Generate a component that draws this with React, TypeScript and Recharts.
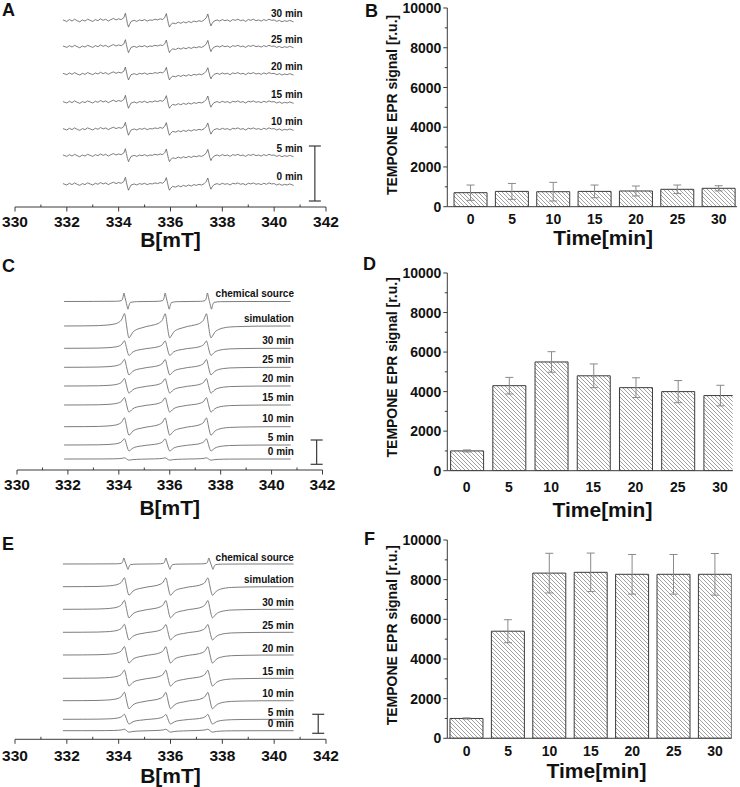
import { Bar, BarChart, ComposedChart, ErrorBar, Line, Scatter, XAxis, YAxis } from 'recharts'

const FONT = '"Liberation Sans", Arial, Helvetica, sans-serif'
const INK = '#111'
const AXIS = '#3a3a3a'
const TRACE = '#666'

type Pt = [number, number]

// ---- bar panels (B, D, F) ----
const times = [0, 5, 10, 15, 20, 25, 30]
const signalTicks = [0, 1000, 2000, 3000, 4000, 5000, 6000, 7000, 8000, 9000, 10000]

const signalB = [705, 770, 755, 770, 790, 875, 925]
const errorB = [385, 400, 470, 320, 250, 215, 130]
const signalD = [1000, 4300, 5500, 4800, 4200, 4000, 3800]
const errorD = [50, 420, 520, 600, 500, 560, 520]
const signalF = [1000, 5400, 8330, 8370, 8270, 8270, 8270]
const errorF = [30, 580, 1000, 970, 1000, 1000, 1050]

// ---- spectra panels (A, C, E) ----
const fieldTicks = [330, 331, 332, 333, 334, 335, 336, 337, 338, 339, 340, 341, 342]

// weak TEMPONE triplet on a noisy baseline (panel A), relative amplitude
const noisySpectrum: Pt[] = [
  [331.85, 0.1], [332.0, -0.1], [332.1, 0.15], [332.2, -0.05], [332.3, 0.2], [332.4, 0], [332.5, -0.15],
  [332.6, 0.1], [332.7, -0.05], [332.8, 0.2], [332.9, 0.05], [333.0, -0.1], [333.1, 0.15], [333.2, 0],
  [333.3, 0.25], [333.4, 0.05], [333.5, 0.2], [333.6, -0.05], [333.7, 0.15], [333.8, 0.3], [333.9, 0.1],
  [334.0, 0.25], [334.1, 0.15], [334.2, 0.4], [334.26, 1.0], [334.3, 0.3], [334.34, -0.4], [334.38, -0.85],
  [334.42, -0.5], [334.48, -0.1], [334.6, 0.05], [334.7, -0.1], [334.8, 0.1], [334.9, 0], [335.0, 0.15],
  [335.1, -0.05], [335.2, 0.1], [335.3, 0.05], [335.4, 0.2], [335.5, 0.1], [335.6, 0.25], [335.7, 0.15],
  [335.78, 0.45], [335.84, 0.95], [335.88, 0.3], [335.92, -0.4], [335.96, -0.85], [336.0, -0.6],
  [336.08, -0.3], [336.2, -0.4], [336.3, -0.2], [336.4, -0.35], [336.5, -0.15], [336.6, -0.3],
  [336.7, -0.1], [336.8, -0.25], [336.9, -0.05], [337.0, -0.15], [337.1, 0], [337.2, -0.1], [337.3, 0.1],
  [337.38, 0.4], [337.44, 0.9], [337.48, 0.3], [337.52, -0.3], [337.56, -0.7], [337.6, -0.4],
  [337.68, -0.05], [337.8, 0.1], [337.9, -0.05], [338.0, 0.15], [338.1, 0], [338.2, 0.1], [338.3, -0.1],
  [338.4, 0.15], [338.5, 0.05], [338.6, 0.2], [338.7, 0], [338.8, 0.1], [338.9, -0.1], [339.0, 0.15],
  [339.1, 0.05], [339.2, 0.2], [339.3, 0], [339.4, 0.1], [339.5, -0.05], [339.6, 0.15], [339.7, 0],
  [339.8, 0.2], [339.9, 0.05], [340.0, 0.1], [340.1, -0.1], [340.2, 0.05], [340.3, -0.15], [340.4, 0],
  [340.5, -0.1], [340.6, 0.05], [340.75, -0.15],
]

// broad triplet (simulation and time traces)
const broadSpectrum: Pt[] = [
  [331.85, 0], [332.6, 0.01], [333.2, 0.03], [333.5, 0.07], [333.8, 0.15], [334.0, 0.3], [334.12, 0.55],
  [334.18, 0.85], [334.22, 1.0], [334.3, 0.1], [334.35, -0.6], [334.4, -0.95], [334.46, -0.8],
  [334.55, -0.5], [334.7, -0.28], [334.9, -0.15], [335.1, -0.03], [335.4, 0.1], [335.6, 0.27],
  [335.72, 0.52], [335.78, 0.83], [335.82, 0.98], [335.9, 0.08], [335.95, -0.6], [336.0, -0.95],
  [336.06, -0.8], [336.15, -0.5], [336.3, -0.28], [336.5, -0.15], [336.7, -0.03], [337.02, 0.1],
  [337.22, 0.27], [337.34, 0.52], [337.4, 0.83], [337.44, 0.98], [337.52, 0.08], [337.57, -0.6],
  [337.62, -0.95], [337.68, -0.8], [337.77, -0.5], [337.92, -0.28], [338.12, -0.15], [338.35, -0.08],
  [338.8, -0.04], [339.5, -0.01], [340.75, 0],
]

// narrow triplet (chemical source)
const sharpSpectrum: Pt[] = [
  [331.85, 0], [333.0, 0.01], [333.9, 0.03], [334.1, 0.1], [334.16, 0.45], [334.2, 1.0], [334.24, 0.5],
  [334.28, 0], [334.32, -0.5], [334.36, -0.9], [334.4, -0.45], [334.46, -0.1], [334.7, -0.02],
  [335.5, 0.02], [335.72, 0.1], [335.78, 0.45], [335.82, 1.0], [335.86, 0.5], [335.9, 0], [335.94, -0.5],
  [335.98, -0.9], [336.02, -0.45], [336.08, -0.1], [336.3, -0.02], [337.2, 0.02], [337.38, 0.1],
  [337.44, 0.45], [337.48, 1.0], [337.52, 0.5], [337.56, 0], [337.6, -0.5], [337.64, -0.9],
  [337.68, -0.45], [337.74, -0.1], [338.0, -0.02], [339.0, 0], [340.75, 0],
]

const namesA = ['30 min', '25 min', '20 min', '15 min', '10 min', '5 min', '0 min']
const offsetsA = [186.3, 160.3, 133, 104.7, 77.7, 51.3, 22.7]
const ampsA = [7.5, 7, 7, 7, 7, 7, 7]

const namesCE = ['chemical source', 'simulation', '30 min', '25 min', '20 min', '15 min', '10 min', '5 min', '0 min']
const offsetsC = [168.5, 144, 121.7, 102.7, 84, 65, 43.3, 25, 11]
const ampsC = [8.5, 12.5, 7.5, 8, 7.5, 7.5, 9, 6.3, 1.2]
const offsetsE = [175.3, 152.6, 130, 107, 84.3, 61, 38.6, 20, 8.6]
const ampsE = [6, 9, 9, 8, 8.5, 8.2, 8.5, 5, 1.5]

const shapesA = namesA.map(() => noisySpectrum)
const shapesCE = namesCE.map((n) => (n === 'chemical source' ? sharpSpectrum : broadSpectrum))

function fieldTick(baseline: number) {
  return (props: any) => {
    const { x, y, payload } = props
    const major = payload.value % 2 === 0
    return (
      <g>
        <line x1={x} x2={x} y1={y} y2={major ? y + 4.5 : y - 2.5} stroke={AXIS} strokeWidth={1} />
        {major && (
          <text x={x} y={y + baseline} textAnchor="middle" fontSize={15.5} fontWeight={700} fontFamily={FONT} fill={INK}>
            {payload.value}
          </text>
        )}
      </g>
    )
  }
}

function timeTick(baseline: number) {
  return (props: any) => (
    <text x={props.x} y={props.y + baseline} textAnchor="middle" fontSize={14} fontWeight={700} fontFamily={FONT} fill={INK}>
      {props.payload.value}
    </text>
  )
}

function signalTick(props: any) {
  const { x, y, payload } = props
  const major = payload.value % 2000 === 0
  return (
    <g>
      <line x1={x - (major ? 4 : 2.5)} x2={x} y1={y} y2={y} stroke={AXIS} strokeWidth={1} />
      {major && (
        <text x={x - 6} y={y} dy="0.36em" textAnchor="end" fontSize={14} fontWeight={700} fontFamily={FONT} fill={INK}>
          {payload.value}
        </text>
      )}
    </g>
  )
}

function bottomTitle(text: string, baseline: number, dx: number) {
  return (props: any) => {
    const vb = props.viewBox
    return (
      <text x={vb.x + vb.width / 2 + dx} y={vb.y + baseline} textAnchor="middle" fontSize={21} fontWeight={700} fontFamily={FONT} fill={INK}>
        {text}
      </text>
    )
  }
}

function sideTitle(text: string, cx: number, dy: number) {
  return (props: any) => {
    const vb = props.viewBox
    const x = vb.x + cx
    const y = vb.y + vb.height / 2 + dy
    return (
      <text x={x} y={y} transform={`rotate(-90 ${x} ${y})`} textAnchor="middle" dominantBaseline="central" fontSize={14} fontWeight={700} fontFamily={FONT} fill={INK}>
        {text}
      </text>
    )
  }
}

function TraceName(props: any) {
  return (
    <text x={props.cx} y={props.cy} dy="0.36em" textAnchor="end" fontSize={10} fontWeight={700} fontFamily={FONT} fill={INK}>
      {props.payload.name}
    </text>
  )
}

type SpectrumProps = {
  top: number
  plotH: number
  axisH: number
  x330: number
  x342: number
  names: string[]
  offsets: number[]
  amps: number[]
  shapes: Pt[][]
  labelB: number
  labelGap: number
  scaleBar: { b: number; lo: number; hi: number }
  tickBase: number
  titleBase: number
  curve: 'linear' | 'monotone'
}

function SpectrumPanel(p: SpectrumProps) {
  const width = 340
  const nameRows = p.names.map((name, i) => ({ b: p.labelB, v: p.offsets[i] + p.labelGap, name }))
  const barRow = [{ b: p.scaleBar.b, v: (p.scaleBar.lo + p.scaleBar.hi) / 2, e: (p.scaleBar.hi - p.scaleBar.lo) / 2 }]
  return (
    <div style={{ position: 'absolute', left: 0, top: p.top }}>
      <ComposedChart width={width} height={p.plotH + p.axisH} margin={{ top: 0, right: width - p.x342, bottom: 0, left: p.x330 }}>
        <XAxis
          type="number"
          dataKey="b"
          domain={[330, 342]}
          allowDataOverflow
          ticks={fieldTicks}
          interval={0}
          tickSize={0}
          tickMargin={0}
          tickLine={false}
          axisLine={{ stroke: AXIS, strokeWidth: 1 }}
          height={p.axisH}
          tick={fieldTick(p.tickBase)}
          label={{ content: bottomTitle('B[mT]', p.titleBase, 0) }}
        />
        <YAxis type="number" dataKey="v" hide domain={[0, p.plotH]} allowDataOverflow />
        {p.names.map((name, i) => (
          <Line
            key={name}
            data={p.shapes[i].map(([b, a]) => ({ b, v: p.offsets[i] + p.amps[i] * a }))}
            dataKey="v"
            type={p.curve}
            stroke={TRACE}
            strokeWidth={0.85}
            dot={false}
            activeDot={false}
            isAnimationActive={false}
          />
        ))}
        <Scatter data={nameRows} dataKey="v" shape={TraceName} isAnimationActive={false} />
        <Scatter data={barRow} dataKey="v" shape={() => <g />} isAnimationActive={false}>
          <ErrorBar dataKey="e" direction="y" width={6} stroke={AXIS} strokeWidth={1.2} />
        </Scatter>
      </ComposedChart>
    </div>
  )
}

type BarProps = {
  id: string
  top: number
  marginTop: number
  plotH: number
  axisH: number
  right: number
  domain: [number, number]
  values: number[]
  errors: number[]
  tickBase: number
  titleBase: number
  titleDx: number
  sideDy: number
}

function BarPanel(p: BarProps) {
  const rows = times.map((t, i) => ({ t, s: p.values[i], e: p.errors[i] }))
  return (
    <div style={{ position: 'absolute', left: 370, top: p.top }}>
      <BarChart width={p.right - 370} height={p.marginTop + p.plotH + p.axisH} data={rows} margin={{ top: p.marginTop, right: 0, bottom: 0, left: 0 }}>
        <defs>
          <pattern id={p.id} width={4} height={4} patternUnits="userSpaceOnUse">
            <rect width={4} height={4} fill="#fff" />
            <path d="M-1,-1 L5,5 M-1,3 L1,5 M3,-1 L5,1" stroke="#777" strokeWidth={0.7} />
          </pattern>
        </defs>
        <XAxis
          type="number"
          dataKey="t"
          domain={p.domain}
          allowDataOverflow
          ticks={times}
          interval={0}
          tickSize={0}
          tickMargin={0}
          tickLine={false}
          axisLine={{ stroke: AXIS, strokeWidth: 1 }}
          height={p.axisH}
          tick={timeTick(p.tickBase)}
          label={{ content: bottomTitle('Time[min]', p.titleBase, p.titleDx) }}
        />
        <YAxis
          type="number"
          domain={[0, 10000]}
          allowDataOverflow
          ticks={signalTicks}
          interval={0}
          tickSize={0}
          tickMargin={0}
          tickLine={false}
          axisLine={{ stroke: AXIS, strokeWidth: 1 }}
          width={77.3}
          tick={signalTick}
          label={{ content: sideTitle('TEMPONE EPR signal [r.u.]', 22, p.sideDy) }}
        />
        <Bar dataKey="s" barSize={33} fill={`url(#${p.id})`} stroke="#3a3a3a" strokeWidth={1} isAnimationActive={false}>
          <ErrorBar dataKey="e" direction="y" width={4} stroke="#8a8a8a" strokeWidth={1} />
        </Bar>
      </BarChart>
    </div>
  )
}

export default function App() {
  return (
    <div style={{ position: 'absolute', left: 0, top: 0, width: 740, height: 787, overflow: 'hidden', background: '#fff' }}>
      <SpectrumPanel
        top={0} plotH={207} axisH={46} x330={15} x342={326}
        names={namesA} offsets={offsetsA} amps={ampsA} shapes={shapesA}
        labelB={341.1} labelGap={7.5} scaleBar={{ b: 341.57, lo: 6, hi: 61 }}
        tickBase={19.5} titleBase={40} curve="linear"
      />
      <SpectrumPanel
        top={260} plotH={210} axisH={50} x330={17} x342={322.5}
        names={namesCE} offsets={offsetsC} amps={ampsC} shapes={shapesCE}
        labelB={340.88} labelGap={8} scaleBar={{ b: 341.77, lo: 5.7, hi: 30 }}
        tickBase={19.5} titleBase={44.5} curve="monotone"
      />
      <SpectrumPanel
        top={530} plotH={209.3} axisH={48} x330={15} x342={326}
        names={namesCE} offsets={offsetsE} amps={ampsE} shapes={shapesCE}
        labelB={340.76} labelGap={7} scaleBar={{ b: 341.7, lo: 6, hi: 25 }}
        tickBase={21.5} titleBase={44} curve="monotone"
      />
      <BarPanel
        id="hatchB" top={0} marginTop={8} plotH={198.7} axisH={46} right={737} domain={[-2.83, 32.2]}
        values={signalB} errors={errorB} tickBase={17.5} titleBase={38.5} titleDx={11} sideDy={-2.4}
      />
      <BarPanel
        id="hatchD" top={263.3} marginTop={10} plotH={197.7} axisH={56} right={732.7} domain={[-2.3, 31.5]}
        values={signalD} errors={errorD} tickBase={21} titleBase={46} titleDx={12.5} sideDy={-4.5}
      />
      <BarPanel
        id="hatchF" top={530} marginTop={10} plotH={198.3} axisH={46} right={731.7} domain={[-2.34, 32]}
        values={signalF} errors={errorF} tickBase={17.5} titleBase={40} titleDx={7} sideDy={-4}
      />
      <svg width={740} height={787} style={{ position: 'absolute', left: 0, top: 0, pointerEvents: 'none' }}>
        <g fontFamily={FONT} fontWeight={700} fontSize={18} fill={INK}>
          <text x={2} y={16}>A</text>
          <text x={365} y={17}>B</text>
          <text x={2} y={272}>C</text>
          <text x={363} y={270}>D</text>
          <text x={2} y={550}>E</text>
          <text x={364} y={545}>F</text>
        </g>
      </svg>
    </div>
  )
}
